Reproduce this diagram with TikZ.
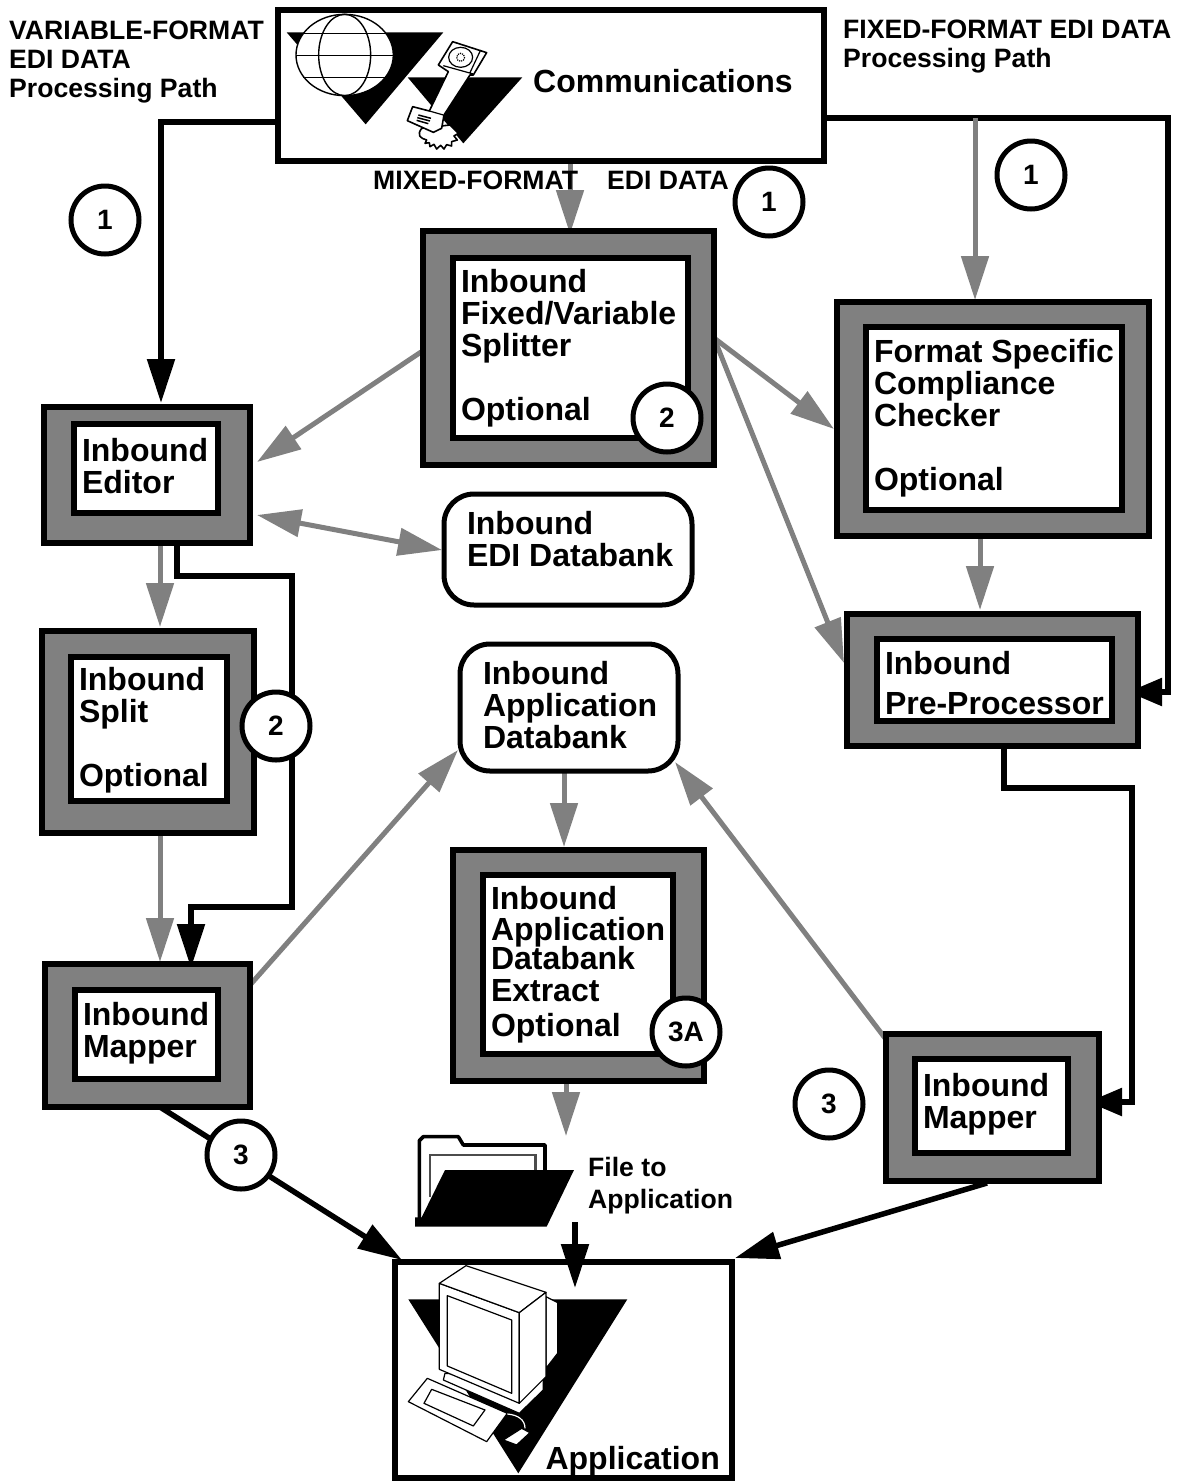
\documentclass[tikz,border=0pt]{standalone}
\usepackage{fontspec}
\setmainfont{Liberation Sans}
\usetikzlibrary{arrows.meta,calc}
\newcommand{\bigfont}{\fontsize{32}{32}\selectfont\bfseries\hyphenpenalty=10000 \exhyphenpenalty=10000 }
\newcommand{\smallfont}{\fontsize{26.6}{29}\selectfont\bfseries}
\newcommand{\lift}[3]{\raisebox{\dimexpr#2-6pt\relax}[0pt][0pt]{\parbox[c]{#1}{\raggedright #3}}}
\definecolor{flowgray}{HTML}{808080}
\tikzset{
  outerbox/.style={draw=black,line width=5.5pt,fill=flowgray,inner sep=0pt},
  innerbox/.style={draw=black,line width=5.5pt,fill=white,inner xsep=8pt,inner ysep=0pt,font=\bigfont},
  plainbox/.style={draw=black,line width=5.5pt,fill=white,inner sep=0pt},
  bank/.style={draw=black,line width=5pt,fill=white,rounded corners=30pt,inner xsep=23pt,inner ysep=0pt,font=\bigfont},
  badge/.style={circle,draw=black,line width=5pt,fill=white,minimum size=68pt,inner sep=0pt,font=\fontsize{28}{28}\selectfont\bfseries},
  lab/.style={inner sep=0pt,align=left,font=\smallfont},
  biglab/.style={inner sep=0pt,align=left,font=\bigfont},
  grayflow/.style={draw=flowgray,line width=5pt,-{Triangle[length=44pt,width=27pt]}},
  grayboth/.style={draw=flowgray,line width=5pt,{Triangle[length=44pt,width=27pt]}-{Triangle[length=44pt,width=27pt]}},
  blackflow/.style={draw=black,line width=5.5pt,-{Triangle[length=44pt,width=27pt]}},
  blackshort/.style={draw=black,line width=5.5pt,-{Triangle[length=34pt,width=27pt]}},
  iconline/.style={draw=black,line width=1.2pt,fill=white,line join=round},
}
\begin{document}
\begin{tikzpicture}[x=1pt,y=-1pt]
\useasboundingbox (0,0) rectangle (1180,1481);
\fill[white] (0,0) rectangle (1180,1481);

% free attachment points
\coordinate (commL) at (278,122);
\coordinate (commR) at (824,118);
\coordinate (commB) at (570,161);
\coordinate (branchR) at (975,118);
\coordinate (edIn) at (161,403);
\coordinate (splitA) at (421,352);
\coordinate (splitB) at (714,338);
\coordinate (edA) at (257,462);
\coordinate (edB) at (257,515);
\coordinate (dbA) at (442,550);
\coordinate (ccIn) at (834,429);
\coordinate (ppIn) at (844,663);
\coordinate (ppR) at (1128,692);
\coordinate (edOutG) at (160,543);
\coordinate (edOutK) at (177,540);
\coordinate (spIn) at (160,627);
\coordinate (spOut) at (160,833);
\coordinate (mapIn) at (160,962);
\coordinate (mapInK) at (191,968);
\coordinate (ccOut) at (980,536);
\coordinate (ppIn2) at (980,610);
\coordinate (ppOut) at (1004,746);
\coordinate (mrIn) at (1088,1102);
\coordinate (mlOut) at (250,985);
\coordinate (adbIn) at (458,750);
\coordinate (adbOut) at (564,771);
\coordinate (exIn) at (564,847);
\coordinate (exOut) at (566,1081);
\coordinate (folderIn) at (566,1136);
\coordinate (folderOut) at (575,1222);
\coordinate (appIn) at (575,1288);
\coordinate (mrOutA) at (888,1042);
\coordinate (adbIn2) at (675,762);
\coordinate (mlOutB) at (160,1107);
\coordinate (appA) at (402,1260);
\coordinate (mrOutB) at (987,1183);
\coordinate (appB) at (735,1258);

% connectors
\draw[blackflow] (commL) -| (edIn);
\draw[grayflow] (commB) -- (570,234);
\draw[blackshort] (commR) -- (1168,118) -- (1168,692) -- (ppR);
\draw[grayflow] (branchR) -- (975,300);
\draw[grayflow] (splitA) -- (edA);
\draw[grayflow] (splitB) -- (ccIn);
\draw[grayflow] (splitB) -- (ppIn);
\draw[grayboth] (edB) -- (dbA);
\draw[grayflow] (edOutG) -- (spIn);
\draw[grayflow] (spOut) -- (mapIn);
\draw[blackflow] (edOutK) -- (177,576) -- (292,576) -- (292,907) -- (191,907) -- (mapInK);
\draw[grayflow] (ccOut) -- (ppIn2);
\draw[grayflow] (mlOut) -- (adbIn);
\draw[grayflow] (adbOut) -- (exIn);
\draw[grayflow] (exOut) -- (folderIn);
\draw[blackshort] (ppOut) -- (1004,788) -- (1132,788) -- (1132,1102) -- (mrIn);
\draw[grayflow] (mrOutA) -- (adbIn2);
\draw[blackflow] (mlOutB) -- (appA);
\draw[blackflow] (mrOutB) -- (appB);

% Communications box
\node[plainbox,minimum width=546pt,minimum height=151pt] (comm) at (551,85.5) {};
\begin{scope}[shift={(270,0)},x=0.3333pt,y=-0.3333pt]
  \fill[black] (50,97) -- (520,97) -- (287,373) -- cycle;
  \fill[black] (413,232) -- (757,232) -- (580,430) -- cycle;
  \draw[iconline,line width=1.4pt] (224,165) ellipse [x radius=146,y radius=122];
  \draw[line width=1.4pt] (224,165) ellipse [x radius=78,y radius=122];
  \draw[line width=1.4pt] (100,100) -- (348,100) (78,167) -- (370,167) (100,233) -- (348,233);
  % cord
  \draw[black,line width=1.6pt,fill=white,line join=round] (455,385) .. controls (440,405) and (450,415) .. (470,420) -- (465,430) -- (478,428) -- (480,440) -- (492,433) -- (500,447) -- (512,436) -- (522,447) -- (530,434) -- (545,438) -- (545,425) -- (562,420) -- (552,408) -- (565,400) -- (540,375) -- cycle;
  % handset
  \draw[iconline,line width=1.6pt] (548,125) -- (650,158) -- (610,225) -- (600,225) -- (522,345) -- (515,385) -- (490,397) -- (412,362) -- (428,320) -- (478,333) -- (535,215) -- (505,195) -- cycle;
  \draw[line width=1.2pt] (520,197) -- (610,222) (632,150) -- (600,218);
  \draw[line width=1.2pt] (478,333) -- (520,345);
  \draw[line width=1.2pt] (572,172) ellipse [x radius=36,y radius=30];
  \draw[line width=1.2pt,densely dotted] (572,172) circle [radius=12];
  \draw[line width=1.5pt] (445,345) -- (483,355) (442,353) -- (480,363) (440,361) -- (475,371);
\end{scope}
\node[biglab,anchor=west] (commlabel) at (533,81) {Communications};

% Process boxes
\node[outerbox,minimum width=291pt,minimum height=234pt] (splitO) at (568.5,348) {};
\node[innerbox,minimum height=180pt] (splitter) at (570.5,348) {\lift{219pt}{0pt}{Inbound\\Fixed/Variable\\Splitter\\[32pt]Optional}};
\node[outerbox,minimum width=312pt,minimum height=234pt] (ccO) at (993,419) {};
\node[innerbox,minimum height=183pt] (checker) at (994,418.5) {\lift{240pt}{0pt}{\mbox{Format Specific}\\Compliance\\Checker\\[32pt]Optional}};
\node[outerbox,minimum width=206pt,minimum height=136pt] (edO) at (147,475) {};
\node[innerbox,minimum height=89pt] (editor) at (146,468.5) {\lift{128pt}{2.5pt}{Inbound\\Editor}};
\node[outerbox,minimum width=212pt,minimum height=202pt] (spO) at (148,732) {};
\node[innerbox,minimum height=144pt] (split) at (149,729) {\lift{140pt}{-1.5pt}{Inbound\\Split\\[32pt]Optional}};
\node[outerbox,minimum width=291pt,minimum height=132pt] (ppO) at (992.5,680) {};
\node[innerbox,minimum height=82pt] (prep) at (994.5,680) {\lift{219pt}{-3pt}{Inbound\\[8pt]\mbox{Pre-Processor}}};
\node[outerbox,minimum width=251pt,minimum height=231pt] (exO) at (578.5,965.5) {};
\node[innerbox,minimum height=179pt] (extract) at (578,964.5) {\lift{174pt}{0pt}{Inbound\\[-1pt]Application\\[-3pt]Databank\\Extract\\[3pt]Optional}};
\node[outerbox,minimum width=205pt,minimum height=143pt] (mlO) at (147.5,1035.5) {};
\node[innerbox,minimum height=89pt] (mapL) at (146.5,1034.5) {\lift{127pt}{1pt}{Inbound\\Mapper}};
\node[outerbox,minimum width=213pt,minimum height=147pt] (mrO) at (992.5,1107.5) {};
\node[innerbox,minimum height=94pt] (mapR) at (991.5,1106) {\lift{137pt}{2pt}{Inbound\\Mapper}};

% Databanks
\node[bank,minimum height=111pt] (edidb) at (568,549.5) {\lift{202pt}{10pt}{Inbound\\\mbox{EDI Databank}}};
\node[bank,minimum height=127pt] (appdb) at (569,707.5) {\lift{172pt}{2pt}{Inbound\\Application\\Databank}};

% Folder icon
\begin{scope}[shift={(390,1120)},x=0.3333pt,y=-0.3333pt]
  \draw[black,line width=3.6pt,fill=white,line join=round] (88,300) -- (88,62) -- (100,50) -- (205,50) -- (220,75) -- (465,75) -- (465,160);
  \draw[black!70,line width=2.4pt] (120,230) -- (120,105) -- (436,105) -- (436,155);
  \fill[black] (165,150) -- (552,150) -- (470,320) -- (75,320) -- (75,292) -- (95,292) -- cycle;
\end{scope}
\node[lab,anchor=west] (filelabel) at (588,1186) {File to\\[3pt]Application};

% Application box
\node[plainbox,minimum width=337pt,minimum height=216pt] (app) at (563.5,1370) {};
\begin{scope}[shift={(390,1120)},x=0.3333pt,y=-0.3333pt]
  \fill[black] (55,538) -- (712,538) -- (385,1060) -- cycle;
  \draw[iconline] (468,530) -- (503,548) -- (503,700) -- (468,745) -- cycle;
  \draw[iconline] (165,760) -- (160,780) -- (388,880) -- (460,810) -- (460,780) -- cycle;
  \draw[iconline] (148,490) -- (388,578) -- (388,850) -- (148,748) -- cycle;
  \draw[iconline] (148,490) -- (228,437) -- (468,517) -- (388,578) -- cycle;
  \draw[iconline] (468,517) -- (468,770) -- (388,850) -- (388,578) -- cycle;
  \draw[iconline] (172,527) -- (365,600) -- (365,820) -- (172,738) -- cycle;
  \draw[iconline] (112,775) -- (55,845) -- (290,965) -- (352,880) -- cycle;
  \draw[iconline] (125,808) -- (285,870) -- (250,918) -- (102,850) -- cycle;
  \draw[draw=white,line width=1.2pt] (352,882) .. controls (385,885) and (405,900) .. (405,925);
  \draw[iconline] (340,960) -- (395,925) -- (420,938) -- (380,975) -- cycle;
\end{scope}
\draw[blackflow] (folderOut) -- (appIn);
\node[biglab,anchor=east] (applabel) at (720,1461) {Application};

% Text labels
\node[lab,anchor=west] (varlabel) at (9,62) {VARIABLE-FORMAT\\EDI DATA\\Processing Path};
\node[lab,anchor=west] (fixlabel) at (843,47) {FIXED-FORMAT EDI DATA\\Processing Path};
\node[lab,anchor=west] (mixlabel) at (373,180) {MIXED-FORMAT};
\node[lab,anchor=west] (edilabel) at (607,180) {EDI DATA};

% Badges
\node[badge] (b1a) at (105,220) {1};
\node[badge] (b1b) at (769,202) {1};
\node[badge] (b1c) at (1031,175) {1};
\node[badge] (b2a) at (667,418) {2};
\node[badge] (b2b) at (276,726) {2};
\node[badge] (b3a) at (686,1032) {3A};
\node[badge] (b3b) at (241,1155) {3};
\node[badge] (b3c) at (829,1104) {3};
\end{tikzpicture}
\end{document}
